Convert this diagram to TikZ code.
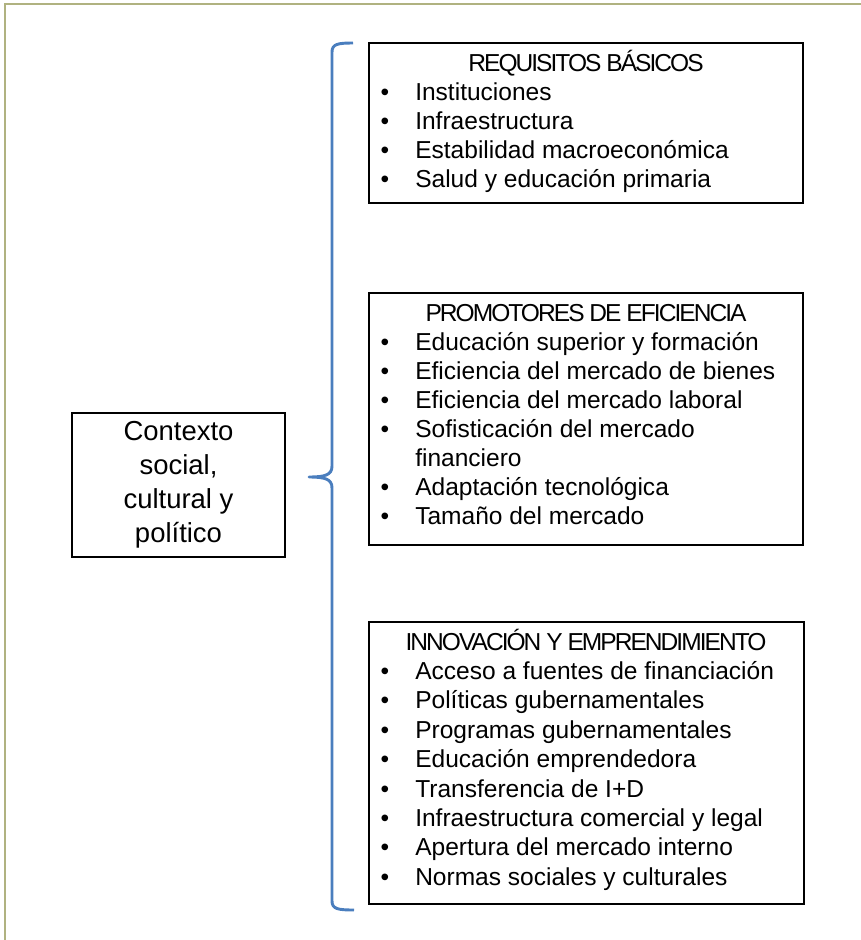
\documentclass[tikz,border=0pt]{standalone}
\usepackage{fontspec}
\setmainfont{Liberation Sans}
\newfontfamily\headfont[LetterSpace=-8]{Liberation Sans}
\usepackage{tikz}
\usetikzlibrary{positioning}

\definecolor{frameolive}{RGB}{176,178,128}
\definecolor{braceblue}{RGB}{74,126,190}

\tikzset{
  box/.style={draw=black, line width=1.4pt, rectangle, inner sep=0pt},
  head/.style={anchor=base, inner sep=0pt, font=\headfont\fontsize{18.4}{22}\selectfont},
  item/.style={anchor=base west, inner sep=0pt, font=\fontsize{18.4}{22}\selectfont},
  dot/.style={anchor=base, inner sep=0pt, font=\fontsize{18.4}{22}\selectfont},
}

\begin{document}
\begin{tikzpicture}[x=0.75pt, y=-0.75pt]
    \useasboundingbox (0,0) rectangle (861,940);

    % marco
    \draw[frameolive, line width=2pt] (5,960) -- (5,4) -- (880,4);

    % contexto
    \node (ctx) [box, minimum width=159.75pt, minimum height=108pt, align=center,
        font=\fontsize{20.6}{25.5}\selectfont] at (178.5,485)
        {Contexto\\social,\\cultural y\\político};

    % llave
    \coordinate (tip) at (309,477);
    \draw[braceblue, line width=2.2pt, line join=round]
        (353,43) .. controls (338,43) and (332,44) .. (332,52) -- (332,466)
        .. controls (332,475) and (325,477) .. (tip)
        .. controls (325,477) and (332,479) .. (332,488) -- (332,901)
        .. controls (332,909) and (338,910) .. (354,910);

    % cajas
    \node (req)  [box, minimum width=325.5pt, minimum height=120pt]   at (586,123) {};
    \node (prom) [box, minimum width=325.5pt, minimum height=189pt]   at (586,419) {};
    \node (inno) [box, minimum width=326.25pt, minimum height=211.5pt] at (586.5,763) {};

    % requisitos
    \node (reqh) [head] at (586,71) {REQUISITOS BÁSICOS};
    \foreach \txt [count=\i] in {Instituciones, Infraestructura,
        Estabilidad macroeconómica, Salud y educación primaria} {
        \node (reqb\i) [dot] at (385,71+29*\i) {•};
        \node (req\i) [item] at (415,71+29*\i) {\txt};
    }

    % promotores
    \node (promh) [head] at (586,321) {PROMOTORES DE EFICIENCIA};
    \foreach \txt [count=\i] in {Educación superior y formación,
        Eficiencia del mercado de bienes, Eficiencia del mercado laboral,
        Sofisticación del mercado} {
        \node (promb\i) [dot] at (385,321+29*\i) {•};
        \node (prom\i) [item] at (415,321+29*\i) {\txt};
    }
    \node (prom4b) [item] at (415,466) {financiero};
    \foreach \txt [count=\i from 5] in {Adaptación tecnológica, Tamaño del mercado} {
        \node (promb\i) [dot] at (385,321+29*\i+29) {•};
        \node (prom\i) [item] at (415,321+29*\i+29) {\txt};
    }

    % innovacion
    \node (innoh) [head] at (586,650) {INNOVACIÓN Y EMPRENDIMIENTO};
    \foreach \txt [count=\i] in {Acceso a fuentes de financiación,
        Políticas gubernamentales, Programas gubernamentales,
        Educación emprendedora, Transferencia de I+D,
        Infraestructura comercial y legal, Apertura del mercado interno,
        Normas sociales y culturales} {
        \node (innob\i) [dot] at (385,650+29.4*\i) {•};
        \node (inno\i) [item] at (415,650+29.4*\i) {\txt};
    }
\end{tikzpicture}
\end{document}
